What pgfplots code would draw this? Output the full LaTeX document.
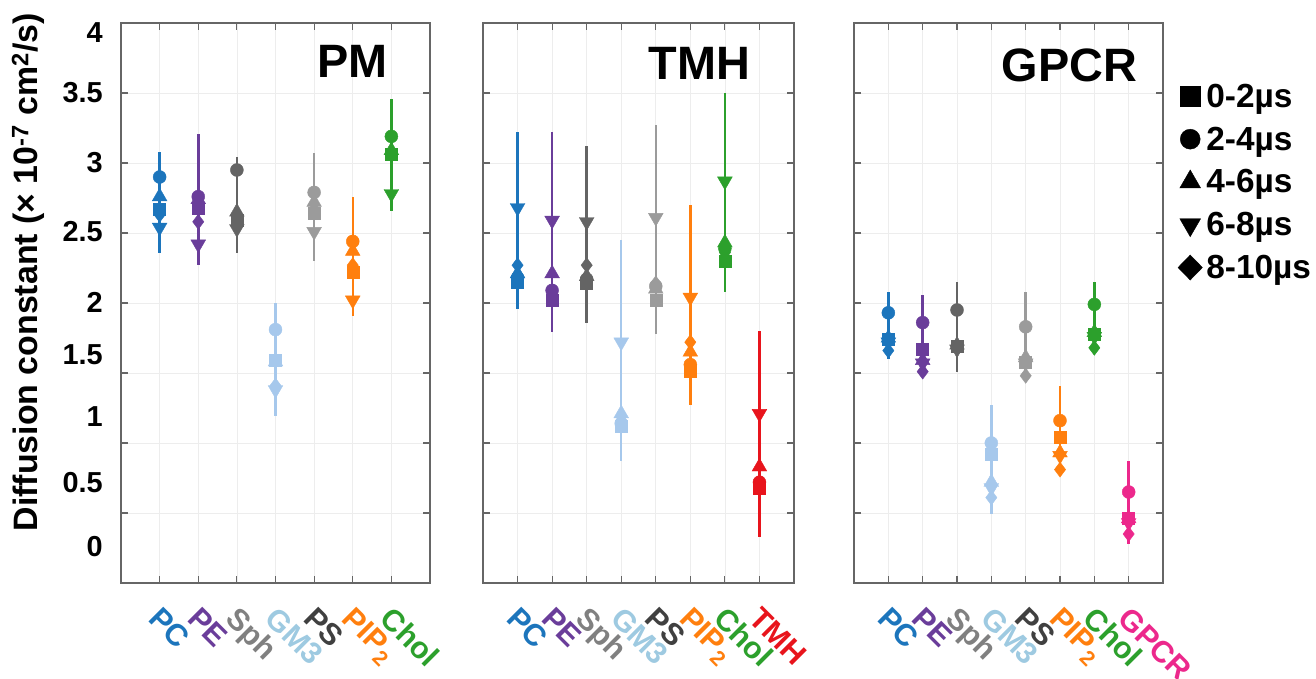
\documentclass[border=0pt]{standalone}
\usepackage{fontspec}
\setmainfont{Liberation Sans}
\usepackage{pgfplots}
\pgfplotsset{compat=1.18}

\definecolor{cPC}{RGB}{28,117,188}
\definecolor{cPE}{RGB}{106,61,154}
\definecolor{cSph}{RGB}{100,100,100}
\definecolor{cSphL}{RGB}{128,128,128}
\definecolor{cGM}{RGB}{166,200,236}
\definecolor{cGML}{RGB}{158,202,225}
\definecolor{cPS}{RGB}{155,155,155}
\definecolor{cPSL}{RGB}{64,64,64}
\definecolor{cPIP}{RGB}{255,127,14}
\definecolor{cChol}{RGB}{44,160,44}
\definecolor{cTMH}{RGB}{232,20,28}
\definecolor{cGPCR}{RGB}{236,40,140}

% color, x, mid, half, square, circle, up-tri, down-tri, diamond
\newcommand{\cat}[9]{%
  \addplot[forget plot, color=#1, mark=none, line width=2.5bp,
    error bars/.cd, y dir=both, y explicit, error mark=none,
    error bar style={line width=2.5bp}]
    coordinates {(#2,#3) +- (0,#4)};
  \addplot[forget plot, color=#1, only marks, mark=diamond*, mark size=7.5bp] coordinates {(#2,#9)};
  \addplot[forget plot, color=#1, only marks, mark=triangle*, mark size=8.5bp, mark options={rotate=180}] coordinates {(#2,#8)};
  \addplot[forget plot, color=#1, only marks, mark=square*, mark size=6bp] coordinates {(#2,#5)};
  \addplot[forget plot, color=#1, only marks, mark=triangle*, mark size=8.5bp] coordinates {(#2,#7)};
  \addplot[forget plot, color=#1, only marks, mark=*, mark size=6.5bp] coordinates {(#2,#6)};
}

\tikzset{ptitle/.style={anchor=east, inner sep=0pt, font=\fontsize{47}{50}\selectfont\bfseries}}
\pgfplotsset{
  panel/.style={
    scale only axis, anchor=south west, height=560bp,
    ymin=0, ymax=4, ytick={0,0.5,1,1.5,2,2.5,3,3.5,4}, yticklabels={},
    grid=major, grid style={color=black!7, line width=0.6bp},
    tick align=inside, tick pos=both, major tick length=7bp,
    tick style={color=black!60, line width=1.2bp},
    axis line style={color=black!60, line width=1.5bp},
    xticklabel style={yshift=-22bp, xshift=3bp, rotate=-45, anchor=north west, inner sep=0pt,
      font=\fontsize{30.5}{32}\selectfont\bfseries},
  },
}

\begin{document}
\begin{tikzpicture}
\useasboundingbox (0,0) rectangle (1316bp,679bp);

% ---- PM ----
\begin{axis}[panel, at={(121bp,96bp)}, width=309bp,
  xmin=0, xmax=8, xtick={1,2,3,4,5,6,7},
  xticklabels={\textcolor{cPC}{PC},\textcolor{cPE}{PE},\textcolor{cSphL}{Sph},
    \textcolor{cGML}{GM3},\textcolor{cPSL}{PS},\textcolor{cPIP}{PIP\textsubscript{2}},
    \textcolor{cChol}{Chol}},
  extra y ticks={3.93,3.5,3.0,2.507,2.007,1.629,1.186,0.721,0.257},
  extra y tick labels={4,3.5,3,2.5,2,1.5,1,0.5,0},
  extra y tick style={grid=none, major tick length=0pt},
  yticklabel style={anchor=east, inner sep=0pt, xshift=-18bp,
    font=\fontsize{29}{31}\selectfont\bfseries},
  ylabel={Diffusion constant (× 10\textsuperscript{-7} cm\textsuperscript{2}/s)},
  ylabel style={at={(rel axis cs:-0.301,0.555)}, anchor=center, inner sep=0pt,
    font=\fontsize{34}{36}\selectfont\bfseries},
]
\cat{cPC}{1}{2.72}{0.36}{2.67}{2.90}{2.76}{2.54}{2.63}
\cat{cPE}{2}{2.74}{0.47}{2.68}{2.76}{2.74}{2.42}{2.58}
\cat{cSph}{3}{2.70}{0.34}{2.59}{2.95}{2.65}{2.53}{2.63}
\cat{cGM}{4}{1.595}{0.405}{1.59}{1.81}{1.58}{1.38}{1.41}
\cat{cPS}{5}{2.685}{0.385}{2.64}{2.79}{2.72}{2.51}{2.67}
\cat{cPIP}{6}{2.335}{0.425}{2.22}{2.44}{2.37}{2.02}{2.27}
\cat{cChol}{7}{3.06}{0.40}{3.06}{3.19}{3.09}{2.78}{3.07}
\node[ptitle] at (rel axis cs:0.864,0.932) {PM};
\end{axis}

% ---- TMH ----
\begin{axis}[panel, at={(483bp,96bp)}, width=311bp,
  xmin=0, xmax=9, xtick={1,2,3,4,5,6,7,8},
  xticklabels={\textcolor{cPC}{PC},\textcolor{cPE}{PE},\textcolor{cSphL}{Sph},
    \textcolor{cGML}{GM3},\textcolor{cPSL}{PS},\textcolor{cPIP}{PIP\textsubscript{2}},
    \textcolor{cChol}{Chol},\textcolor{cTMH}{TMH}},
]
\cat{cPC}{1}{2.59}{0.63}{2.15}{2.18}{2.21}{2.68}{2.27}
\cat{cPE}{2}{2.505}{0.715}{2.02}{2.09}{2.21}{2.59}{2.06}
\cat{cSph}{3}{2.49}{0.63}{2.14}{2.17}{2.19}{2.58}{2.27}
\cat{cGM}{4}{1.66}{0.79}{1.12}{1.14}{1.21}{1.72}{1.16}
\cat{cPS}{5}{2.525}{0.745}{2.02}{2.12}{2.10}{2.61}{2.14}
\cat{cPIP}{6}{1.985}{0.715}{1.51}{1.56}{1.65}{2.04}{1.72}
\cat{cChol}{7}{2.79}{0.71}{2.30}{2.39}{2.43}{2.87}{2.36}
\cat{cTMH}{8}{1.065}{0.735}{0.68}{0.72}{0.83}{1.21}{0.70}
\node[ptitle] at (rel axis cs:0.859,0.927) {TMH};
\end{axis}

% ---- GPCR ----
\begin{axis}[panel, at={(854bp,96bp)}, width=309bp,
  xmin=0, xmax=9, xtick={1,2,3,4,5,6,7,8},
  xticklabels={\textcolor{cPC}{PC},\textcolor{cPE}{PE},\textcolor{cSphL}{Sph},
    \textcolor{cGML}{GM3},\textcolor{cPSL}{PS},\textcolor{cPIP}{PIP\textsubscript{2}},
    \textcolor{cChol}{Chol},\textcolor{cGPCR}{GPCR}},
  legend style={draw=none, fill=none, at={(1.048,0.895)}, anchor=north west,
    font=\fontsize{33.5}{36}\selectfont\bfseries, row sep=14bp, inner sep=0pt,
    /tikz/every odd column/.append style={column sep=2bp}},
  legend cell align=left,
]
\addlegendimage{only marks, mark=square*, mark size=10bp, black}
\addlegendentry{0-2µs}
\addlegendimage{only marks, mark=*, mark size=10bp, black}
\addlegendentry{2-4µs}
\addlegendimage{only marks, mark=triangle*, mark size=12bp, black}
\addlegendentry{4-6µs}
\addlegendimage{only marks, mark=triangle*, mark size=12bp, black, mark options={rotate=180}}
\addlegendentry{6-8µs}
\addlegendimage{only marks, mark=diamond*, mark size=12.5bp, black, mark options={xscale=1.3}}
\addlegendentry{8-10µs}
\cat{cPC}{1}{1.84}{0.24}{1.74}{1.93}{1.75}{1.72}{1.66}
\cat{cPE}{2}{1.765}{0.295}{1.67}{1.86}{1.59}{1.57}{1.51}
\cat{cSph}{3}{1.83}{0.32}{1.69}{1.95}{1.70}{1.67}{1.68}
\cat{cGM}{4}{0.88}{0.39}{0.92}{1.00}{0.72}{0.68}{0.61}
\cat{cPS}{5}{1.78}{0.30}{1.58}{1.83}{1.61}{1.57}{1.48}
\cat{cPIP}{6}{1.105}{0.305}{1.04}{1.16}{0.93}{0.91}{0.81}
\cat{cChol}{7}{1.91}{0.24}{1.78}{1.99}{1.79}{1.76}{1.68}
\cat{cGPCR}{8}{0.575}{0.295}{0.46}{0.65}{0.46}{0.43}{0.35}
\node[ptitle] at (rel axis cs:0.916,0.925) {GPCR};
\end{axis}
\end{tikzpicture}
\end{document}
